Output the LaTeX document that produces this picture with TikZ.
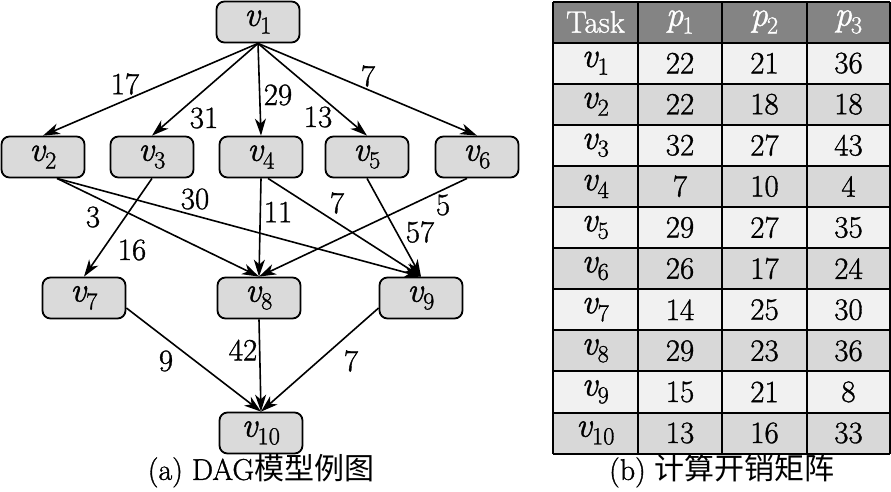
\documentclass[tikz,border=0pt]{standalone}
\usepackage{fontspec}
\setmainfont{Latin Modern Roman}[FakeBold=1.1]
\newfontfamily\cjk{Noto Sans CJK SC}
\usetikzlibrary{arrows.meta}

\definecolor{taskgray}{RGB}{218,218,218}
\definecolor{headgray}{RGB}{132,132,132}
\definecolor{rowlight}{RGB}{241,241,241}
\definecolor{rowdark}{RGB}{216,216,216}

\newcommand\tv[1]{\textit{v}\kern-1pt\textsubscript{#1}}
\newcommand\tp[1]{\textit{p}\kern-1pt\textsubscript{#1}}

\tikzset{
  task/.style={draw, line width=1.8pt, rounded corners=8pt, fill=taskgray,
    minimum width=83pt, minimum height=41pt, inner sep=0pt,
    font=\fontsize{35}{35}\selectfont},
  cost/.style={inner sep=0pt, font=\fontsize{31}{31}\selectfont},
  dep/.style={line width=1.6pt, -{Stealth[length=17pt,width=11pt,inset=5pt]}},
  cell/.style={inner sep=0pt, font=\fontsize{31}{31}\selectfont},
  vcell/.style={inner sep=0pt, font=\fontsize{35}{35}\selectfont},
  caption/.style={inner sep=0pt, font=\fontsize{30}{30}\selectfont},
}

\begin{document}
\begin{tikzpicture}[x=1pt,y=-1pt]
\useasboundingbox (0,0) rectangle (891,491);

% DAG
\node[task] (v1) at (258,22) {\tv{1}};
\node[task] (v2) at (43,157) {\tv{2}};
\node[task] (v3) at (152,157) {\tv{3}};
\node[task] (v4) at (261,157) {\tv{4}};
\node[task] (v5) at (367,157) {\tv{5}};
\node[task] (v6) at (477,157) {\tv{6}};
\node[task] (v7) at (84,298) {\tv{7}};
\node[task] (v8) at (259,298) {\tv{8}};
\node[task] (v9) at (421,298) {\tv{9}};
\node[task] (v10) at (261,433) {\tv{10}};

\draw[dep] (v1.south) -- (v2.north);
\draw[dep] (v1.south) -- (v3.north);
\draw[dep] (v1.south) -- (v4.north);
\draw[dep] (v1.south) -- (v5.north);
\draw[dep] (v1.south) -- (v6.north);
\draw[dep] ([xshift=14pt]v2.south) -- (v8.north);
\draw[dep] ([xshift=14pt]v2.south) -- (v9.north);
\draw[dep] (v3.south) -- (v7.north);
\draw[dep] (v4.south) -- (v8.north);
\draw[dep] ([xshift=7pt]v4.south) -- (v9.north);
\draw[dep] (v5.south) -- (v9.north);
\draw[dep] ([xshift=-10pt]v6.south) -- (v8.north);
\draw[dep] ([yshift=-10pt]v7.east) -- (v10.north);
\draw[dep] (v8.south) -- (v10.north);
\draw[dep] ([yshift=-10pt]v9.west) -- (v10.north);

\node[cost] (w12) at (125,84) {17};
\node[cost] (w13) at (204,118) {31};
\node[cost] (w14) at (278,95) {29};
\node[cost] (w15) at (318,117) {13};
\node[cost] (w16) at (368,76) {7};
\node[cost] (w28) at (93,217) {3};
\node[cost] (w29) at (195,199) {30};
\node[cost] (w37) at (132,250) {16};
\node[cost] (w48) at (278,212) {11};
\node[cost] (w49) at (337,203) {7};
\node[cost] (w59) at (420,232) {57};
\node[cost] (w68) at (443,205) {5};
\node[cost] (w710) at (166,361) {9};
\node[cost] (w810) at (243,350) {42};
\node[cost] (w910) at (351,361) {7};

\node[caption] (capa) at (261,471) {(a) DAG{\cjk 模型例图}};

% cost table
\fill[headgray] (553,1.5) rectangle (890,42.6);
\foreach \i in {1,3,5,7,9}
  \fill[rowlight] (553,{1.5+41.1*\i}) rectangle (890,{1.5+41.1*(\i+1)});
\foreach \i in {2,4,6,8,10}
  \fill[rowdark] (553,{1.5+41.1*\i}) rectangle (890,{1.5+41.1*(\i+1)});
\foreach \i in {0,...,11}
  \draw[line width=2pt] (553,{1.5+41.1*\i}) -- (890,{1.5+41.1*\i});
\foreach \x in {553,638,722,807,890}
  \draw[line width=2pt] (\x,1.5) -- (\x,453.6);

\node[cell,text=white] (h0) at (595.5,22) {Task};
\node[vcell,text=white] (h1) at (680,22) {\tp{1}};
\node[vcell,text=white] (h2) at (764.5,22) {\tp{2}};
\node[vcell,text=white] (h3) at (848.5,22) {\tp{3}};
\foreach \a/\b/\c [count=\i] in {22/21/36, 22/18/18, 32/27/43, 7/10/4,
    29/27/35, 26/17/24, 14/25/30, 29/23/36, 15/21/8, 13/16/33} {
  \node[vcell] (r\i c0) at (595.5,{22+41.1*\i}) {\tv{\i}};
  \node[cell] (r\i c1) at (680,{22+41.1*\i}) {\a};
  \node[cell] (r\i c2) at (764.5,{22+41.1*\i}) {\b};
  \node[cell] (r\i c3) at (848.5,{22+41.1*\i}) {\c};
}

\node[caption] (capb) at (722,471) {(b) {\cjk 计算开销矩阵}};
\end{tikzpicture}
\end{document}
